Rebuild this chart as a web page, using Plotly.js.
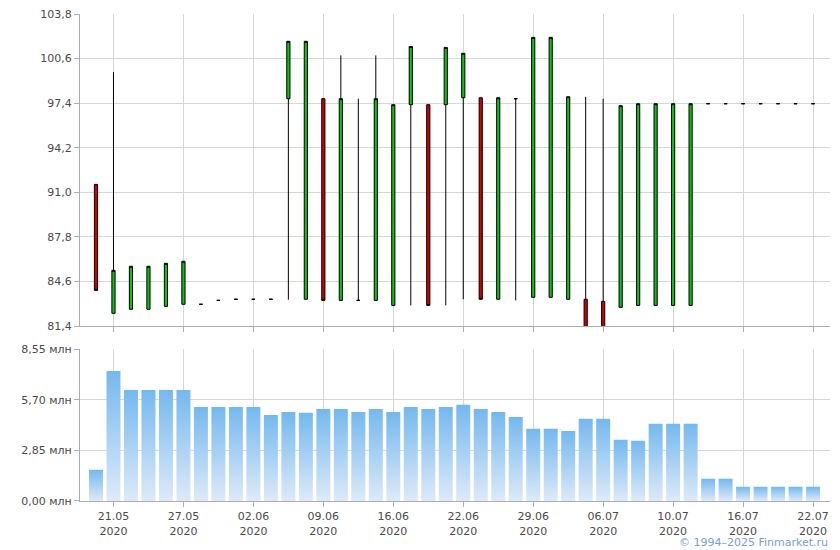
<!DOCTYPE html>
<html>
<head>
<meta charset="utf-8">
<script src="https://cdn.plot.ly/plotly-3.0.1.min.js"></script>
<style>html,body{margin:0;padding:0;background:#fff;}#chart{width:840px;height:550px;}</style>
</head>
<body>
<div id="chart"></div>
<script>
const dates = ["20.05.2020","21.05.2020","22.05.2020","25.05.2020","26.05.2020","27.05.2020","28.05.2020","29.05.2020","01.06.2020","02.06.2020",
"03.06.2020","04.06.2020","05.06.2020","09.06.2020","10.06.2020","11.06.2020","15.06.2020","16.06.2020","17.06.2020","18.06.2020",
"19.06.2020","22.06.2020","23.06.2020","25.06.2020","26.06.2020","29.06.2020","30.06.2020","02.07.2020","03.07.2020","06.07.2020",
"07.07.2020","08.07.2020","09.07.2020","10.07.2020","13.07.2020","14.07.2020","15.07.2020","16.07.2020","17.07.2020","20.07.2020",
"21.07.2020","22.07.2020"];
const openP  = [91.57,82.31,82.6,82.6,82.81,82.96,82.96,83.24,83.32,83.32,83.32,97.72,83.32,97.72,83.24,83.24,83.24,82.88,97.29,97.29,
97.29,97.79,97.79,83.32,97.72,83.46,83.46,83.32,83.32,83.17,82.74,82.88,82.88,82.88,82.88,97.36,97.36,97.36,97.36,97.36,97.36,97.36];
const highP  = [91.57,99.63,85.69,85.69,85.9,86.05,82.96,83.24,83.32,83.32,83.32,101.84,101.84,97.72,100.83,97.72,100.83,97.29,101.47,97.29,
101.4,100.98,97.79,97.79,97.72,102.12,102.12,97.86,97.86,97.72,97.22,97.36,97.36,97.36,97.36,97.36,97.36,97.36,97.36,97.36,97.36,97.36];
const lowP   = [83.96,82.31,82.6,82.6,82.81,82.96,82.96,83.24,83.32,83.32,83.32,83.29,83.32,83.24,83.24,83.24,83.24,82.88,82.88,82.88,
82.88,83.32,83.32,83.32,83.24,83.46,83.46,83.32,81.2,81.2,82.74,82.88,82.88,82.88,82.88,97.36,97.36,97.36,97.36,97.36,97.36,97.36];
const closeP = [83.96,85.4,85.69,85.69,85.9,86.05,82.96,83.24,83.32,83.32,83.32,101.84,101.84,83.24,97.72,83.24,97.72,97.29,101.47,82.88,
101.4,100.98,83.32,97.79,97.72,102.12,102.12,97.86,81.2,81.2,97.22,97.36,97.36,97.36,97.36,97.36,97.36,97.36,97.36,97.36,97.36,97.36];
const volume = [1.76,7.33,6.26,6.26,6.26,6.26,5.30,5.30,5.30,5.30,4.85,5.02,4.97,5.19,5.19,5.02,5.19,5.02,5.30,5.19,
5.30,5.42,5.19,5.02,4.74,4.07,4.07,3.95,4.63,4.63,3.45,3.39,4.35,4.35,4.35,1.25,1.25,0.80,0.80,0.80,0.80,0.80];
const xTickVals = ["21.05.2020","27.05.2020","02.06.2020","09.06.2020","16.06.2020","22.06.2020","29.06.2020","06.07.2020","10.07.2020","16.07.2020","22.07.2020"];
const xTickText = xTickVals.map(d => d.slice(0,5) + "<br>" + d.slice(6));
const priceTicks = [81.4,84.6,87.8,91.0,94.2,97.4,100.6,103.8];
const priceTickText = priceTicks.map(v => v.toFixed(1).replace('.', ','));
const volTicks = [0,2.85,5.70,8.55];
const volTickText = volTicks.map(v => v.toFixed(2).replace('.', ',') + " млн");

const gridC = '#d3d7dc', axC = '#a9adb5', txtC = '#4a4a4a';
const fontF = 'DejaVu Sans, Verdana, sans-serif';

const traces = [
  {type:'candlestick', x:dates, open:openP, high:highP, low:lowP, close:closeP,
   xaxis:'x', yaxis:'y', whiskerwidth:0, line:{width:1},
   increasing:{fillcolor:'#11c011', line:{color:'#000000', width:1}},
   decreasing:{fillcolor:'#d00000', line:{color:'#000000', width:1}},
   hoverinfo:'skip', showlegend:false},
  {type:'bar', x:dates, y:volume, xaxis:'x2', yaxis:'y2',
   marker:{color:'#a6cff3', line:{width:0}}, hoverinfo:'skip', showlegend:false}
];

const xCommon = {type:'category', categoryorder:'array', categoryarray:dates,
  range:[-0.914, 41.97], showgrid:true, gridcolor:gridC, gridwidth:1,
  tickvals:xTickVals, ticktext:xTickText, ticks:'outside', ticklen:5, tickcolor:axC,
  showline:true, linecolor:axC, linewidth:1, zeroline:false, fixedrange:true,
  tickfont:{family:fontF, size:11, color:txtC}};

const layout = {
  width:840, height:550, paper_bgcolor:'#ffffff', plot_bgcolor:'#ffffff',
  margin:{l:80, r:10, t:14, b:49},
  showlegend:false, boxgap:0.74, bargap:0.2, separators:', ',
  font:{family:fontF, size:11, color:txtC},
  xaxis: Object.assign({}, xCommon, {anchor:'y', showticklabels:false, rangeslider:{visible:false}}),
  xaxis2: Object.assign({}, xCommon, {anchor:'y2', showticklabels:true}),
  yaxis: {domain:[0.3593,1], range:[81.4,103.8], tickvals:priceTicks, ticktext:priceTickText,
    showgrid:true, gridcolor:gridC, showline:true, linecolor:axC, ticks:'outside', ticklen:5, tickcolor:axC,
    zeroline:false, tickfont:{family:fontF, size:11, color:txtC}, fixedrange:true},
  yaxis2: {domain:[0,0.3115], range:[0,8.55], tickvals:volTicks, ticktext:volTickText,
    showgrid:true, gridcolor:gridC, showline:true, linecolor:axC, ticks:'outside', ticklen:5, tickcolor:axC,
    zeroline:false, tickfont:{family:fontF, size:11, color:txtC}, fixedrange:true},
  annotations:[{xref:'paper', yref:'paper', x:1.0, y:-0.0842, xanchor:'right', yanchor:'middle',
    text:'© 1994–2025 Finmarket.ru', showarrow:false, font:{family:fontF, size:11, color:'#7b9be0'}}]
};

Plotly.newPlot('chart', traces, layout, {staticPlot:true, displayModeBar:false}).then(function(gd){
  const svg = gd.querySelector('svg.main-svg');
  let defs = svg.querySelector('defs');
  if (!defs) { defs = document.createElementNS('http://www.w3.org/2000/svg','defs'); svg.insertBefore(defs, svg.firstChild); }
  const g = document.createElementNS('http://www.w3.org/2000/svg','linearGradient');
  g.setAttribute('id','volgrad'); g.setAttribute('x1','0'); g.setAttribute('y1','0'); g.setAttribute('x2','0'); g.setAttribute('y2','1');
  [['0','#74b8ef'],['1','#deeaf8']].forEach(function(s){
    const st = document.createElementNS('http://www.w3.org/2000/svg','stop');
    st.setAttribute('offset', s[0]); st.setAttribute('stop-color', s[1]); g.appendChild(st);
  });
  defs.appendChild(g);
  gd.querySelectorAll('.barlayer .point path').forEach(function(p){ p.style.fill = 'url(#volgrad)'; });
});
</script>
</body>
</html>
